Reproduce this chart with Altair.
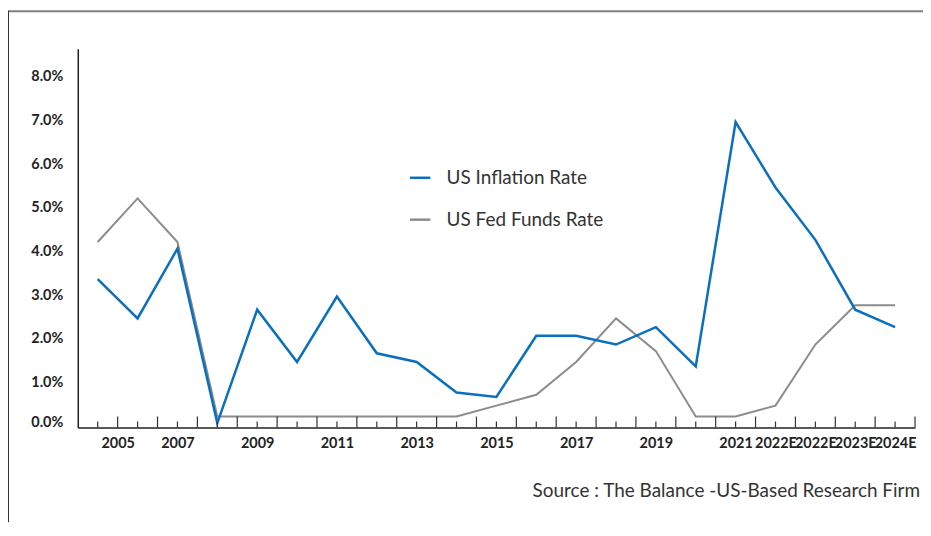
import altair as alt
import pandas as pd

# ---- data ----
years = ["2005", "2006", "2007", "2008", "2009", "2010", "2011", "2012", "2013",
         "2014", "2015", "2016", "2017", "2018", "2019", "2020", "2021",
         "2022E", "2022E", "2023E", "2024E"]
inflation = [3.4, 2.5, 4.1, 0.1, 2.7, 1.5, 3.0, 1.7, 1.5, 0.8, 0.7, 2.1, 2.1,
             1.9, 2.3, 1.4, 7.0, 5.5, 4.3, 2.7, 2.3]
fed_funds = [4.25, 5.25, 4.25, 0.25, 0.25, 0.25, 0.25, 0.25, 0.25, 0.25, 0.5,
             0.75, 1.5, 2.5, 1.75, 0.25, 0.25, 0.5, 1.9, 2.8, 2.8]
series_names = ["US Inflation Rate", "US Fed Funds Rate"]
series_colors = ["#0a70bd", "#8c8c8c"]

# x-axis labels as they appear (position in category units, text)
label_pos = [1.0, 2.5, 4.5, 6.5, 8.5, 10.5, 12.5, 14.5, 16.5, 17.5, 18.5, 19.5, 20.5]
label_txt = ["2005", "2007", "2009", "2011", "2013", "2015", "2017", "2019",
             "2021", "2022E", "2022E", "2023E", "2024E"]
y_ticks = [0, 1, 2, 3, 4, 5, 6, 7, 8]
source_text = "Source : The Balance -US-Based Research Firm"

n = len(years)
W, H = 840, 380

rows = []
for i in range(n):
    rows.append({"pos": i + 0.5, "year": years[i], "value": inflation[i], "series": series_names[0]})
    rows.append({"pos": i + 0.5, "year": years[i], "value": fed_funds[i], "series": series_names[1]})
df = pd.DataFrame(rows)

short_ticks = pd.DataFrame({"pos": [i + 0.5 for i in range(n)]})
long_ticks = pd.DataFrame({"pos": [i + 1.0 for i in range(n)]})

label_expr = "''"
for p, t in reversed(list(zip(label_pos, label_txt))):
    label_expr = f"datum.value == {p} ? '{t}' : ({label_expr})"

xscale = alt.Scale(domain=[0, n], nice=False, zero=False)
yscale = alt.Scale(domain=[0, 8.68], nice=False, zero=False)
cscale = alt.Scale(domain=series_names, range=series_colors)

legend = alt.Legend(
    title=None, orient="none", legendX=332, legendY=118, direction="vertical",
    labelFont="Lato", labelFontSize=19, labelColor="#333333", labelOffset=15,
    symbolType="stroke", symbolSize=420, symbolStrokeWidth=2.5, rowPadding=20,
    padding=0,
)

xaxis = alt.Axis(
    title=None, values=label_pos, labelExpr=label_expr, grid=False, ticks=False,
    tickSize=0, labelOverlap=False, labelFlush=False, labelFont="Lato",
    labelFontWeight="bold", labelFontSize=14.5, labelColor="#222222", labelPadding=9,
    domainColor="#222222", domainWidth=1.5,
)
yaxis = alt.Axis(
    title=None, values=y_ticks, labelExpr="format(datum.value, '.1f') + '%'",
    grid=False, ticks=False, tickSize=0, labelFont="Lato", labelFontWeight="bold",
    labelFontSize=14.5, labelColor="#222222", labelPadding=15,
    labelOffset={"condition": {"test": "datum.value == 0", "value": -5}, "value": -1.5},
    domainColor="#222222", domainWidth=1.5,
)

base = alt.Chart(df)

fed_line = base.transform_filter(alt.datum.series == series_names[1]).mark_line(strokeWidth=2).encode(
    x=alt.X("pos:Q", scale=xscale, axis=xaxis),
    y=alt.Y("value:Q", scale=yscale, axis=yaxis),
    color=alt.Color("series:N", scale=cscale, legend=legend),
)
inf_line = base.transform_filter(alt.datum.series == series_names[0]).mark_line(strokeWidth=2.5).encode(
    x=alt.X("pos:Q", scale=xscale, axis=xaxis),
    y=alt.Y("value:Q", scale=yscale, axis=yaxis),
    color=alt.Color("series:N", scale=cscale, legend=legend),
)

short_rule = alt.Chart(short_ticks).mark_rule(color="#333333", strokeWidth=1.2).encode(
    x=alt.X("pos:Q", scale=xscale, axis=xaxis),
    y=alt.value(H), y2=alt.value(H - 6),
)
long_rule = alt.Chart(long_ticks).mark_rule(color="#333333", strokeWidth=1.2).encode(
    x=alt.X("pos:Q", scale=xscale, axis=xaxis),
    y=alt.value(H), y2=alt.value(H - 11),
)

one = alt.Data(values=[{}])
source = alt.Chart(one).mark_text(
    text=source_text, align="right", baseline="middle", font="Lato",
    fontSize=19, color="#333333",
).encode(x=alt.value(845), y=alt.value(444))

top_border = alt.Chart(one).mark_rule(color="#808080", strokeWidth=2).encode(
    x=alt.value(-70), x2=alt.value(848), y=alt.value(-37.5)
)
left_border = alt.Chart(one).mark_rule(color="#333333", strokeWidth=1).encode(
    x=alt.value(-69.5), y=alt.value(-38), y2=alt.value(H + 95)
)

chart = alt.layer(
    fed_line, inf_line, short_rule, long_rule, source, top_border, left_border
).properties(
    width=W, height=H,
    background="white",
    autosize=alt.AutoSizeParams(type="none"),
    padding={"left": 70, "top": 40, "right": 8, "bottom": 95},
).configure_view(stroke=None)

chart.save("out.html", embed_options={"renderer": "svg", "actions": False})
